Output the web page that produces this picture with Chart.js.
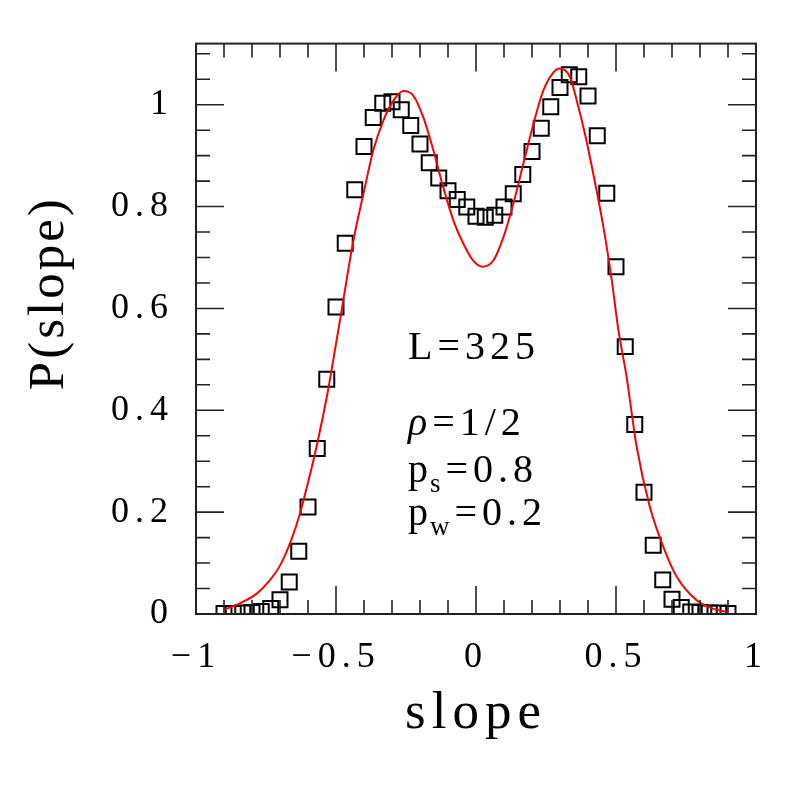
<!DOCTYPE html>
<html>
<head>
<meta charset="utf-8">
<script src="https://cdn.jsdelivr.net/npm/chart.js@4.4.1/dist/chart.umd.min.js"></script>
<style>
  html, body { margin: 0; padding: 0; background: #fff; }
</style>
</head>
<body>
<canvas id="chart" width="797" height="797"></canvas>
<script>
// simulation histogram (open squares)
const slopeBins = [
  -0.9, -0.867, -0.833, -0.8, -0.767, -0.733, -0.7, -0.667, -0.633, -0.6,
  -0.567, -0.533, -0.5, -0.467, -0.433, -0.4, -0.367, -0.333, -0.3, -0.267,
  -0.233, -0.2, -0.167, -0.133, -0.1, -0.067, -0.033, 0, 0.033, 0.067,
  0.1, 0.133, 0.167, 0.2, 0.233, 0.267, 0.3, 0.333, 0.367, 0.4,
  0.433, 0.467, 0.5, 0.533, 0.567, 0.6, 0.633, 0.667, 0.7, 0.733,
  0.767, 0.8, 0.833, 0.867, 0.9
];
const measuredP = [
  0.001, 0.001, 0.002, 0.003, 0.005, 0.011, 0.028, 0.063, 0.123, 0.21,
  0.325, 0.461, 0.603, 0.728, 0.833, 0.918, 0.975, 1.003, 1.006, 0.99,
  0.959, 0.923, 0.886, 0.856, 0.831, 0.814, 0.799, 0.781, 0.779, 0.783,
  0.799, 0.825, 0.863, 0.908, 0.954, 0.996, 1.034, 1.059, 1.055, 1.017,
  0.939, 0.826, 0.682, 0.525, 0.372, 0.239, 0.135, 0.067, 0.029, 0.013,
  0.004, 0.003, 0.002, 0.002, 0.001
];

// fitted curve (red)
const fitSlope = [
  -0.902, -0.843, -0.783, -0.743, -0.7, -0.66, -0.629, -0.599, -0.569, -0.533,
  -0.51, -0.486, -0.438, -0.402, -0.367, -0.331, -0.295, -0.26, -0.224, -0.188,
  -0.152, -0.117, -0.081, -0.045, -0.01, 0.024, 0.062, 0.098, 0.133, 0.169,
  0.205, 0.24, 0.276, 0.3, 0.336, 0.36, 0.389, 0.419, 0.455, 0.485,
  0.508, 0.538, 0.574, 0.621, 0.669, 0.717, 0.788, 0.848, 0.895
];
const fitP = [
  0.008, 0.021, 0.04, 0.062, 0.095, 0.145, 0.197, 0.26, 0.33, 0.426,
  0.498, 0.576, 0.733, 0.825, 0.91, 0.969, 1.008, 1.027, 1.018, 0.975,
  0.91, 0.838, 0.773, 0.727, 0.694, 0.682, 0.694, 0.74, 0.805, 0.884,
  0.962, 1.027, 1.063, 1.071, 1.054, 1.008, 0.943, 0.864, 0.76, 0.655,
  0.56, 0.465, 0.328, 0.21, 0.132, 0.073, 0.027, 0.01, 0.004
];

const xTicks = [-1, -0.5, 0, 0.5, 1];
const yTicks = [0, 0.2, 0.4, 0.6, 0.8, 1];

// annotation: [symbol, subscript, rest]
const infoLines = [
  ['L', '', '=325'],
  ['\u03C1', '', '=1/2'],
  ['p', 's', '=0.8'],
  ['p', 'w', '=0.2']
];

Chart.defaults.font.family = '"Liberation Serif", "Times New Roman", serif';
Chart.defaults.color = '#000';

const SERIF = '"Liberation Serif", serif';

const frameAndText = {
  id: 'frameAndText',
  beforeDraw(chart) {
    chart.ctx.letterSpacing = '6px';
  },
  afterDraw(chart, args, opts) {
    const { ctx, chartArea: a, scales: { x, y } } = chart;
    ctx.save();
    ctx.letterSpacing = '0px';

    // inward ticks on all four sides
    ctx.strokeStyle = '#222';
    ctx.lineWidth = 1.6;
    ctx.beginPath();
    for (let i = -10; i <= 10; i++) {
      const px = x.getPixelForValue(i / 10);
      const len = i % 5 === 0 ? 28 : 14;
      ctx.moveTo(px, a.bottom); ctx.lineTo(px, a.bottom - len);
      ctx.moveTo(px, a.top); ctx.lineTo(px, a.top + len);
    }
    for (let i = 0; i <= 22; i++) {
      const py = y.getPixelForValue(i * 0.05);
      const len = i % 4 === 0 ? 28 : 14;
      ctx.moveTo(a.left, py); ctx.lineTo(a.left + len, py);
      ctx.moveTo(a.right, py); ctx.lineTo(a.right - len, py);
    }
    ctx.stroke();
    ctx.lineWidth = 2;
    ctx.strokeRect(a.left, a.top, a.right - a.left, a.bottom - a.top);

    // y axis title
    ctx.fillStyle = '#000';
    ctx.save();
    ctx.translate(opts.yTitleX, y.getPixelForValue(opts.yTitleAt));
    ctx.rotate(-Math.PI / 2);
    ctx.font = '51px ' + SERIF;
    ctx.letterSpacing = '3px';
    ctx.textAlign = 'center';
    ctx.textBaseline = 'middle';
    ctx.fillText('P(slope)', 0, 0);
    ctx.restore();

    // parameter block
    ctx.textAlign = 'left';
    ctx.textBaseline = 'alphabetic';
    ctx.letterSpacing = '5px';
    infoLines.forEach((line, i) => {
      let px = x.getPixelForValue(opts.infoX);
      const py = y.getPixelForValue(opts.infoY[i]);
      ctx.font = (line[0] === '\u03C1' ? 'italic ' : '') + '40px ' + SERIF;
      ctx.fillText(line[0], px, py);
      px += ctx.measureText(line[0]).width;
      if (line[1]) {
        ctx.font = '27px ' + SERIF;
        ctx.fillText(line[1], px - 3, py + 10);
        px += ctx.measureText(line[1]).width - 3;
      }
      ctx.font = '40px ' + SERIF;
      ctx.fillText(line[2], px, py);
    });
    ctx.restore();
  }
};

new Chart(document.getElementById('chart'), {
  type: 'scatter',
  data: {
    datasets: [
      {
        label: 'fit',
        data: fitSlope.map((s, i) => ({ x: s, y: fitP[i] })),
        showLine: true,
        borderColor: '#ff0000',
        borderWidth: 2,
        pointRadius: 0,
        cubicInterpolationMode: 'monotone',
        clip: 0
      },
      {
        label: 'simulation',
        data: slopeBins.map((s, i) => ({ x: s, y: measuredP[i] })),
        showLine: false,
        pointStyle: 'rect',
        pointRadius: 10.6,
        pointBorderWidth: 2,
        pointBorderColor: '#000',
        pointBackgroundColor: 'rgba(0,0,0,0)',
        clip: 0
      }
    ]
  },
  options: {
    responsive: false,
    animation: false,
    events: [],
    layout: { padding: { left: 0, top: 43, right: 41, bottom: 0 } },
    plugins: {
      legend: { display: false },
      tooltip: { enabled: false },
      frameAndText: {
        yTitleX: 50,
        yTitleAt: 0.63,
        infoX: -0.243,
        infoY: [0.5, 0.351, 0.259, 0.175]
      }
    },
    scales: {
      x: {
        type: 'linear',
        min: -1,
        max: 1,
        grid: { display: false, drawTicks: false },
        border: { display: false },
        afterBuildTicks: s => { s.ticks = xTicks.map(v => ({ value: v })); },
        afterFit: s => { s.height = 183; },
        ticks: {
          font: { size: 36 },
          padding: 22,
          maxRotation: 0,
          autoSkip: false,
          callback: v => v < 0 ? '\u2212' + Math.abs(v) : String(v)
        },
        title: {
          display: true,
          text: 'slope',
          font: { size: 53 },
          padding: { top: 0, bottom: 51 }
        }
      },
      y: {
        type: 'linear',
        min: 0,
        max: 1.12,
        grid: { display: false, drawTicks: false },
        border: { display: false },
        afterBuildTicks: s => { s.ticks = yTicks.map(v => ({ value: v })); },
        afterFit: s => { s.width = 196; },
        ticks: {
          font: { size: 36 },
          padding: 22,
          autoSkip: false,
          callback: v => String(v)
        }
      }
    }
  },
  plugins: [frameAndText]
});
</script>
</body>
</html>
